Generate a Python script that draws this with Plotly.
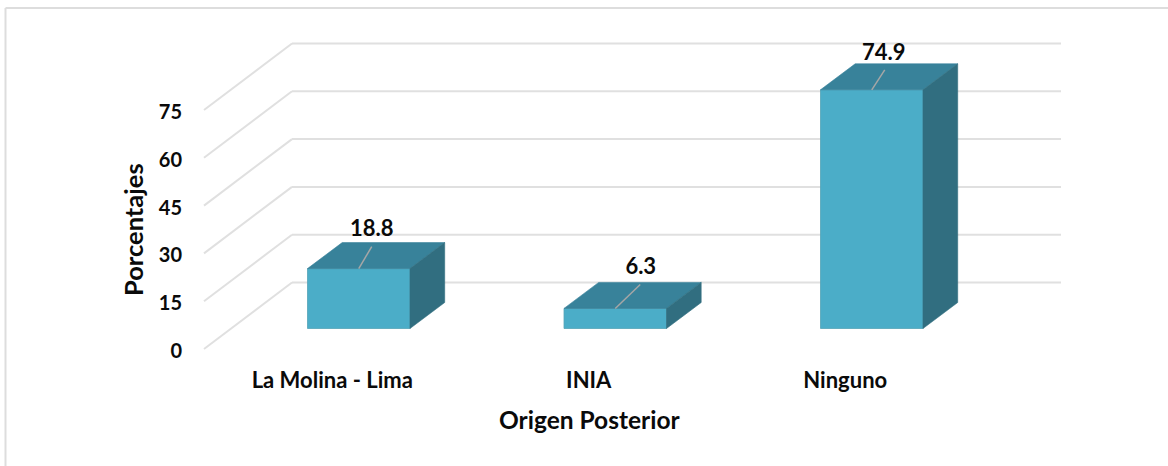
import plotly.graph_objects as go

# ---- data ----
categories = ["La Molina - Lima", "INIA", "Ninguno"]
values = [18.8, 6.3, 74.9]
y_ticks = [0, 15, 30, 45, 60, 75]
x_title = "Origen Posterior"
y_title = "Porcentajes"

# ---- geometry (scale factors of the oblique projection) ----
W, H = 1168, 466
PX_X = 256.5      # px per category
PX_Y = 3.187      # px per value unit
X0_PX = 358.75    # px of first category centre
Y0_PX = 328.5     # px of value 0 on the bar front
LEFT_PX, BOTTOM_PX = 183, 365
BAR_W = 102.5 / PX_X
BAR_DX, BAR_DY = 34.7 / PX_X, 26 / PX_Y
WALL_X0, WALL_Y0 = (204 - X0_PX) / PX_X, (Y0_PX - 349) / PX_Y
WALL_DX, WALL_DY = 88 / PX_X, 66.5 / PX_Y
WALL_XEND = (1061 - X0_PX) / PX_X
LABEL_DX = -26.5 / PX_X
TICK_NUDGE = -2 / PX_Y

# leader-line ends and label centres, offsets from bar top-front centre, px
leader_dx = [13, 25, 13]
leader_dy = [22, 24, 20]
label_dx = [13, 25.5, 12]
label_dy = [38, 40, 35]

FRONT, TOP, SIDE = "#4BADC8", "#38829A", "#316E80"
GRID = "#E0E0E0"
FONT = "Lato"
TXT = "#0A0A0A"

fig = go.Figure()

# front faces of the bars
fig.add_trace(go.Bar(x=list(range(len(categories))), y=values, width=BAR_W,
                     marker=dict(color=FRONT, line=dict(color="#56A3B8", width=0.8)),
                     showlegend=False, hoverinfo="x+y"))

# top and side faces
for i, v in enumerate(values):
    l, r = i - BAR_W / 2, i + BAR_W / 2
    fig.add_trace(go.Scatter(
        x=[l, r, r + BAR_DX, l + BAR_DX, l], y=[v, v, v + BAR_DY, v + BAR_DY, v],
        mode="lines", fill="toself", fillcolor=TOP, line=dict(color=TOP, width=0.6),
        showlegend=False, hoverinfo="skip"))
    fig.add_trace(go.Scatter(
        x=[r, r + BAR_DX, r + BAR_DX, r, r], y=[0, BAR_DY, v + BAR_DY, v, 0],
        mode="lines", fill="toself", fillcolor=SIDE, line=dict(color=SIDE, width=0.6),
        showlegend=False, hoverinfo="skip"))

# leader lines
for i, v in enumerate(values):
    fig.add_trace(go.Scatter(
        x=[i, i + leader_dx[i] / PX_X], y=[v, v + leader_dy[i] / PX_Y],
        mode="lines", line=dict(color="#A6A6A6", width=1.5),
        showlegend=False, hoverinfo="skip"))

# data labels
fig.add_trace(go.Scatter(
    x=[i + label_dx[i] / PX_X for i in range(len(values))],
    y=[v + label_dy[i] / PX_Y for i, v in enumerate(values)],
    mode="text", text=[f"{v:.1f}" for v in values], textposition="middle center",
    textfont=dict(family=FONT, size=22, color=TXT, weight="bold"),
    showlegend=False, hoverinfo="skip"))

# gridlines on side wall and back wall
shapes = []
for t in y_ticks:
    y_front = WALL_Y0 + t
    y_back = y_front + WALL_DY
    line = dict(color=GRID, width=2)
    shapes.append(dict(type="line", xref="x", yref="y", layer="below", line=line,
                       x0=WALL_X0, y0=y_front, x1=WALL_X0 + WALL_DX, y1=y_back))
    shapes.append(dict(type="line", xref="x", yref="y", layer="below", line=line,
                       x0=WALL_X0 + WALL_DX, y0=y_back, x1=WALL_XEND, y1=y_back))

# frame: top and left edges only
frame = dict(color="#DDDDDD", width=2)
shapes.append(dict(type="line", xref="paper", yref="paper", layer="below", line=frame,
                   x0=5.5 / W, x1=1, y0=1 - 8 / H, y1=1 - 8 / H))
shapes.append(dict(type="line", xref="paper", yref="paper", layer="below", line=frame,
                   x0=5.5 / W, x1=5.5 / W, y0=0, y1=1 - 8 / H))

annotations = [
    dict(text=x_title, xref="paper", yref="paper", x=589 / W, y=1 - 419.5 / H,
         xanchor="center", yanchor="middle", showarrow=False,
         font=dict(family=FONT, size=24.5, color=TXT, weight="bold")),
    dict(text=y_title, xref="paper", yref="paper", x=133 / W, y=1 - 230 / H,
         xanchor="center", yanchor="middle", showarrow=False, textangle=-90,
         font=dict(family=FONT, size=25.5, color=TXT, weight="bold")),
]

fig.update_layout(
    width=W, height=H, margin=dict(l=0, r=0, t=0, b=0),
    paper_bgcolor="white", plot_bgcolor="rgba(0,0,0,0)", shapes=shapes,
    annotations=annotations, showlegend=False, barmode="overlay",
    font=dict(family=FONT, size=20, color=TXT),
    xaxis=dict(domain=[LEFT_PX / W, 1],
               range=[(LEFT_PX - X0_PX) / PX_X, (W - X0_PX) / PX_X],
               tickvals=[i + LABEL_DX for i in range(len(categories))],
               ticktext=categories, ticks="", showgrid=False, zeroline=False, showline=False,
               tickfont=dict(family=FONT, size=22, color=TXT, weight="bold")),
    yaxis=dict(domain=[(H - BOTTOM_PX) / H, 1],
               range=[(Y0_PX - BOTTOM_PX) / PX_Y, Y0_PX / PX_Y],
               tickvals=[WALL_Y0 + TICK_NUDGE + t for t in y_ticks],
               ticktext=[str(t) for t in y_ticks], ticks="", showgrid=False, zeroline=False, showline=False,
               tickfont=dict(family=FONT, size=20, color=TXT, weight="bold")),
)
fig.write_html("out.html", config=dict(displayModeBar=False),
               post_script="document.body.style.margin='0';document.body.style.overflow='hidden';")
